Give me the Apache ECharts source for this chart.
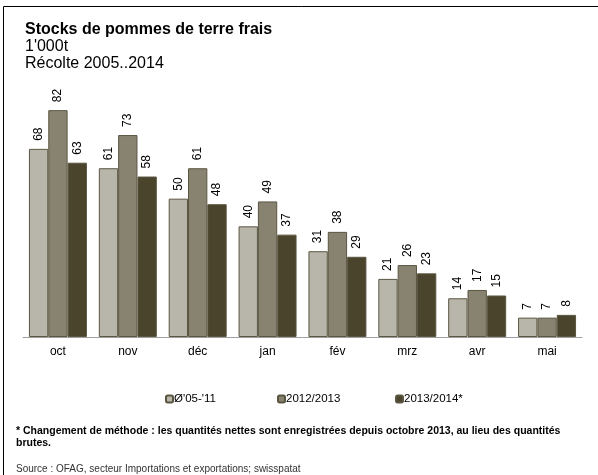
<!DOCTYPE html>
<html>
<head>
<meta charset="utf-8">
<script src="https://cdn.jsdelivr.net/npm/echarts@6/dist/echarts.min.js"></script>
<style>
	html, body { margin: 0; padding: 0; background: #fff; }
	#chart { width: 598px; height: 475px; }
</style>
</head>
<body>
<div id="chart"></div>
<script>
	/*-----data-----*/
	var months = ['oct', 'nov', 'déc', 'jan', 'fév', 'mrz', 'avr', 'mai'];
	var seriesNames = ["Ø'05-'11", '2012/2013', '2013/2014*'];
	var avg0511 = [68, 61, 50, 40, 31, 21, 14, 7];
	var season1213 = [82, 73, 61, 49, 38, 26, 17, 7];
	var season1314 = [63, 58, 48, 37, 29, 23, 15, 8];

	var font = '"Liberation Sans", Arial, sans-serif';
	var catGap = 0.17;
	function makeSeries(name, data, color) {
		return {
			name: name,
			type: 'bar',
			data: data,
			barGap: '0%',
			barCategoryGap: (catGap * 100) + '%',
			itemStyle: {
				color: color,
				borderColor: '#5b5642',
				borderWidth: 1
			}
		};
	}
	/*-----vertical value labels (custom series on the same axes)-----*/
	function makeLabels(data, idx) {
		return {
			name: 'lbl' + idx,
			type: 'custom',
			silent: true,
			z: 5,
			data: data.map(function(v, i) { return [i, v]; }),
			encode: { x: 0, y: 1 },
			renderItem: function(params, api) {
				var pt = api.coord([api.value(0), api.value(1)]);
				var bw = api.size([1, 0])[0] * (1 - catGap) / 3;
				return {
					type: 'text',
					x: pt[0] + (idx - 1) * bw,
					y: pt[1] - 8,
					rotation: Math.PI / 2,
					style: {
						text: String(api.value(1)),
						align: 'left',
						verticalAlign: 'middle',
						font: '12px ' + font,
						fill: '#000'
					}
				};
			}
		};
	}
	// one legend per entry, Excel-like fixed slots
	function makeLegend(name, left) {
		return {
			left: left,
			top: 388,
			itemWidth: 7,
			itemHeight: 7,
			textStyle: {
				fontFamily: font,
				fontSize: 11.5,
				color: '#000',
				padding: [0, 0, 0, -4]
			},
			data: [name]
		};
	}
	var chart = echarts.init(document.getElementById('chart'));
	var option = {
		animation: false,
		grid: {
			top: 88,
			left: 23,
			right: 16,
			bottom: 138
		},
		legend: [
			makeLegend(seriesNames[0], 160),
			makeLegend(seriesNames[1], 272),
			makeLegend(seriesNames[2], 390)
		],
		xAxis: {
			type: 'category',
			data: months,
			axisLine: {
				lineStyle: { color: '#a0a0a0' }
			},
			axisTick: {
				length: 4,
				lineStyle: { color: '#a0a0a0' }
			},
			axisLabel: {
				margin: 9,
				fontFamily: font,
				fontSize: 12,
				color: '#000'
			}
		},
		yAxis: {
			type: 'value',
			min: 0,
			max: 90,
			show: false,
			splitLine: { show: false }
		},
		series: [
			makeSeries(seriesNames[0], avg0511, '#b8b6aa'),
			makeSeries(seriesNames[1], season1213, '#878370'),
			makeSeries(seriesNames[2], season1314, '#4a442c'),
			makeLabels(avg0511, 0),
			makeLabels(season1213, 1),
			makeLabels(season1314, 2)
		],
		graphic: [{
			type: 'rect',
			shape: { x: 3.5, y: 6.5, width: 700, height: 600 },
			style: { fill: 'none', stroke: '#000', lineWidth: 1 }
		}, {
			type: 'text',
			left: 25,
			top: 22,
			style: { text: 'Stocks de pommes de terre frais', font: 'bold 16px ' + font, fill: '#000' }
		}, {
			type: 'text',
			left: 25,
			top: 39,
			style: { text: "1'000t", font: '16px ' + font, fill: '#000' }
		}, {
			type: 'text',
			left: 25,
			top: 56,
			style: { text: 'Récolte 2005..2014', font: '16px ' + font, fill: '#000' }
		}, {
			type: 'text',
			left: 16,
			top: 425,
			style: {
				text: '* Changement de méthode : les quantités nettes sont enregistrées depuis octobre 2013, au lieu des quantités\nbrutes.',
				font: 'bold 10.5px ' + font,
				lineHeight: 12,
				fill: '#000'
			}
		}, {
			type: 'text',
			left: 16,
			top: 464,
			style: { text: 'Source : OFAG, secteur Importations et exportations; swisspatat', font: '10px ' + font, fill: '#333' }
		}]
	};
	chart.setOption(option);
</script>
</body>
</html>
